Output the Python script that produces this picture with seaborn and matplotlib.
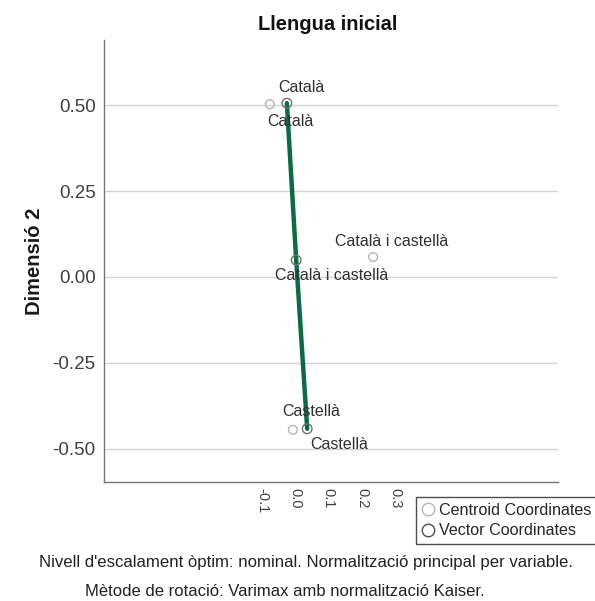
import matplotlib
matplotlib.use("Agg")
import matplotlib.pyplot as plt
from matplotlib.lines import Line2D
import seaborn as sns
import pandas as pd

# Category quantifications for "Llengua inicial"
categories = ["Català", "Català i castellà", "Castellà"]
centroid_x = [-0.077, 0.233, -0.008]
centroid_y = [0.503, 0.058, -0.445]
vector_x = [-0.026, 0.002, 0.035]
vector_y = [0.506, 0.049, -0.442]

y_ticks = [-0.50, -0.25, 0.00, 0.25, 0.50]
x_ticks = [-0.1, 0.0, 0.1, 0.2, 0.3]

sns.set_theme(style="white")
plt.rcParams["font.family"] = ["Liberation Sans", "DejaVu Sans"]

df = pd.DataFrame({
    "cat": categories * 2,
    "x": centroid_x + vector_x,
    "y": centroid_y + vector_y,
    "kind": ["Centroid Coordinates"] * 3 + ["Vector Coordinates"] * 3,
})
vec = df[df["kind"] == "Vector Coordinates"]
cen = df[df["kind"] == "Centroid Coordinates"]

fig = plt.figure(figsize=(5.95, 6.01), dpi=100)
ax = fig.add_axes([104 / 595, 1 - 482 / 601, (558 - 104) / 595, (482 - 40) / 601])

for t in y_ticks:
    ax.axhline(t, color="#d4d4d4", lw=1.0, zorder=0)

# vector line through the category points
sns.lineplot(data=vec, x="x", y="y", sort=False, color="#0b6b45", lw=3.2,
             ax=ax, zorder=2, legend=False)

sns.scatterplot(data=cen, x="x", y="y", marker="o", s=40, facecolors="none",
                edgecolor="#b5b5b5", linewidth=1.0, ax=ax, zorder=3, legend=False)
sns.scatterplot(data=vec, x="x", y="y", marker="o", s=48, facecolors="none",
                edgecolor="#707070", linewidth=1.0, ax=ax, zorder=4, legend=False)

# category labels
cen_off = [(31, 17), (18, 16), (18, 18)]
vec_off = [(4, -18), (35, -15), (32, -16)]
lab_kw = dict(textcoords="offset pixels", ha="center", va="center",
              fontsize=11.5, color="#303030", zorder=5)
for (_, r), off in zip(cen.iterrows(), cen_off):
    ax.annotate(r["cat"], (r["x"], r["y"]), xytext=off, **lab_kw)
for (_, r), off in zip(vec.iterrows(), vec_off):
    ax.annotate(r["cat"], (r["x"], r["y"]), xytext=off, **lab_kw)

ax.set_xlim(-0.575, 0.788)
ax.set_ylim(-0.597, 0.690)
ax.set_yticks(y_ticks)
ax.set_yticklabels([f"{v:.2f}" for v in y_ticks], fontsize=13.5, color="#404040")
ax.set_xticks(x_ticks)
ax.set_xticklabels([f"{v:.1f}" for v in x_ticks], fontsize=10.5, color="#404040",
                   rotation=-90)
ax.tick_params(axis="y", length=0, pad=6)
ax.tick_params(axis="x", length=0, pad=4)
ax.set_xlabel("")
ax.set_ylabel("Dimensió 2", fontsize=14.5, fontweight="bold", labelpad=6,
              color="#1a1a1a")

for side in ["top", "right"]:
    ax.spines[side].set_visible(False)
for side in ["left", "bottom"]:
    ax.spines[side].set_color("#777777")
    ax.spines[side].set_linewidth(1.0)

fig.text(328 / 595, 1 - 25 / 601, "Llengua inicial", ha="center", va="center",
         fontsize=14.5, fontweight="bold", color="#111111")

handles = [
    Line2D([], [], ls="none", marker="o", ms=9, mfc="none", mec="#b5b5b5", mew=1.0),
    Line2D([], [], ls="none", marker="o", ms=9, mfc="none", mec="#505050", mew=1.0),
]
leg = fig.legend(handles, ["Centroid Coordinates", "Vector Coordinates"],
                 loc="upper left", bbox_to_anchor=(416 / 595, 1 - 497 / 601),
                 frameon=True, fancybox=False, fontsize=11.6, handlelength=0.8,
                 handletextpad=0.3, borderpad=0.35, labelspacing=0.35,
                 borderaxespad=0)
leg.get_frame().set_edgecolor("#222222")
leg.get_frame().set_linewidth(1.0)

fig.text(306 / 595, 1 - 563 / 601,
         "Nivell d'escalament òptim: nominal. Normalització principal per variable.",
         ha="center", va="center", fontsize=12.1, color="#222222")
fig.text(285 / 595, 1 - 591 / 601,
         "Mètode de rotació: Varimax amb normalització Kaiser.",
         ha="center", va="center", fontsize=12, color="#222222")

fig.savefig("out.png", dpi=100, facecolor="white")
